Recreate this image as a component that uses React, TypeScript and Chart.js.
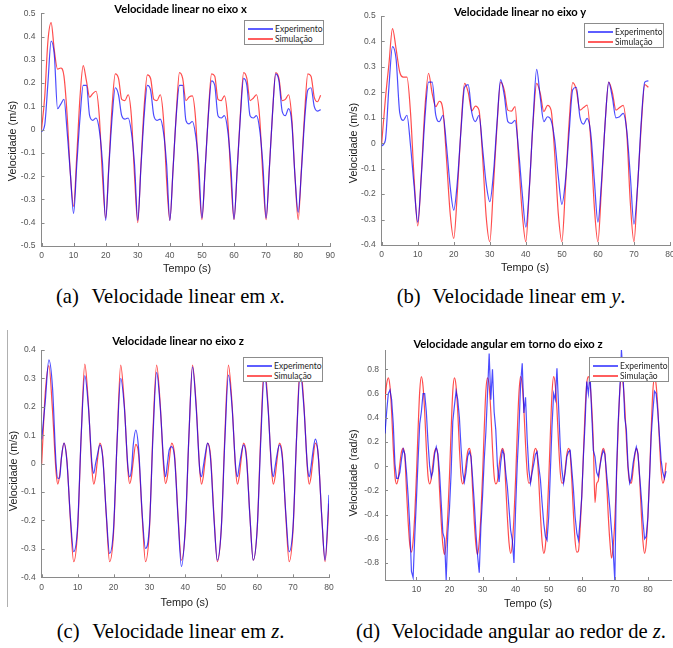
import React, { useEffect, useRef } from "react";
import { Chart, registerables } from "chart.js";
Chart.register(...registerables);

// ---------- DATA ----------
// (a) linear velocity x, sampled every 1 s
const timeA = Array.from({ length: 88 }, (_, i) => i);
const expA = [
  -0.01, 0.02, 0.2, 0.38, 0.32, 0.09, 0.11, 0.13, -0.01, -0.19,
  -0.36, -0.15, 0.05, 0.19, 0.19, 0.06, 0.04, 0.05, 0.0, -0.14,
  -0.39, -0.16, 0.05, 0.18, 0.15, 0.06, 0.045, 0.05, -0.01, -0.15,
  -0.39, -0.16, 0.06, 0.19, 0.17, 0.06, 0.04, 0.045, -0.01, -0.15,
  -0.39, -0.17, 0.06, 0.19, 0.19, 0.04, 0.025, 0.035, -0.02, -0.15,
  -0.38, -0.17, 0.06, 0.21, 0.19, 0.06, 0.05, 0.06, 0.0, -0.15,
  -0.385, -0.17, 0.06, 0.22, 0.19, 0.06, 0.05, 0.06, 0.0, -0.15,
  -0.38, -0.17, 0.07, 0.24, 0.21, 0.08, 0.06, 0.09, 0.03, -0.2,
  -0.355, -0.18, 0.04, 0.17, 0.18, 0.1, 0.08, 0.086,
];
const simA = [
  0.0, 0.14, 0.38, 0.46, 0.34, 0.26, 0.265, 0.23, 0.06, -0.19,
  -0.33, -0.11, 0.14, 0.275, 0.21, 0.14, 0.155, 0.165, 0.06, -0.2,
  -0.38, -0.15, 0.1, 0.24, 0.22, 0.13, 0.125, 0.15, 0.06, -0.2,
  -0.4, -0.15, 0.1, 0.235, 0.22, 0.13, 0.125, 0.15, 0.05, -0.22,
  -0.39, -0.17, 0.07, 0.245, 0.22, 0.125, 0.14, 0.145, 0.05, -0.2,
  -0.387, -0.17, 0.07, 0.24, 0.23, 0.13, 0.125, 0.145, 0.05, -0.2,
  -0.387, -0.17, 0.07, 0.245, 0.22, 0.125, 0.135, 0.15, 0.05, -0.2,
  -0.387, -0.17, 0.07, 0.245, 0.22, 0.125, 0.13, 0.15, 0.05, -0.2,
  -0.387, -0.17, 0.07, 0.24, 0.23, 0.14, 0.12, 0.148,
];

// (b) linear velocity y, sampled every 1 s
const timeB = Array.from({ length: 75 }, (_, i) => i);
const expB = [
  -0.01, 0.01, 0.22, 0.38, 0.33, 0.12, 0.09, 0.11, -0.01, -0.17,
  -0.31, -0.13, 0.1, 0.24, 0.24, 0.11, 0.085, 0.11, -0.013, -0.17,
  -0.263, -0.15, 0.05, 0.22, 0.23, 0.12, 0.085, 0.11, -0.02, -0.16,
  -0.23, -0.12, 0.08, 0.25, 0.19, 0.085, 0.078, 0.09, -0.03, -0.197,
  -0.33, -0.17, 0.09, 0.29, 0.18, 0.085, 0.104, 0.09, 0.013, -0.13,
  -0.24, -0.145, 0.04, 0.21, 0.22, 0.104, 0.075, 0.098, 0.04, -0.145,
  -0.31, -0.15, 0.08, 0.24, 0.18, 0.1, 0.104, 0.117, 0.05, -0.13,
  -0.318, -0.17, 0.08, 0.24, 0.245,
];
const simB = [
  0.0, 0.17, 0.31, 0.45, 0.37, 0.28, 0.26, 0.26, 0.12, -0.14,
  -0.325, -0.12, 0.14, 0.275, 0.196, 0.144, 0.165, 0.13, -0.066, -0.276,
  -0.374, -0.19, 0.06, 0.235, 0.2, 0.127, 0.146, 0.13, -0.053, -0.29,
  -0.387, -0.17, 0.07, 0.24, 0.21, 0.13, 0.126, 0.144, -0.066, -0.276,
  -0.387, -0.17, 0.08, 0.235, 0.196, 0.124, 0.149, 0.13, -0.04, -0.276,
  -0.387, -0.17, 0.08, 0.238, 0.21, 0.13, 0.14, 0.15, 0.013, -0.25,
  -0.387, -0.17, 0.08, 0.24, 0.2, 0.13, 0.14, 0.149, 0.04, -0.236,
  -0.387, -0.17, 0.065, 0.23, 0.22,
];

// (c) linear velocity z, read at key instants of each cycle
const timeC = [
  0, 1, 2, 3, 4, 4.5, 5, 5.5, 6.2, 7, 8, 8.9,
  10, 11, 12, 13, 14, 14.5, 15, 15.5, 16.2, 17, 18, 18.9,
  20, 21, 22, 23, 24, 24.5, 25, 25.5, 26.2, 27, 28, 28.9,
  30, 31, 32, 33, 34, 34.5, 35, 35.5, 36.2, 37, 38, 38.9,
  40, 41, 42, 43, 44, 44.5, 45, 45.5, 46.2, 47, 48, 48.9,
  50, 51, 52, 53, 54, 54.5, 55, 55.5, 56.2, 57, 58, 58.9,
  60, 61, 62, 63, 64, 64.5, 65, 65.5, 66.2, 67, 68, 68.9,
  70, 71, 72, 73, 74, 74.5, 75, 75.5, 76.2, 77, 78, 78.9,
  80,
];
const expC = [
  0.085, 0.22, 0.365, 0.27, 0.0, -0.052, -0.05, 0.022, 0.072, 0.01, -0.19, -0.31,
  -0.22, 0.1, 0.31, 0.2, 0.0, -0.034, 0.0, 0.03, 0.066, 0.02, -0.18, -0.316,
  -0.23, 0.08, 0.3, 0.2, -0.01, -0.046, -0.02, 0.066, 0.118, 0.05, -0.18, -0.298,
  -0.22, 0.1, 0.321, 0.2, 0.0, -0.046, 0.0, 0.048, 0.06, 0.02, -0.2, -0.362,
  -0.22, 0.1, 0.341, 0.2, -0.02, -0.046, -0.01, 0.03, 0.072, 0.02, -0.2, -0.34,
  -0.23, 0.08, 0.312, 0.2, -0.01, -0.046, -0.01, 0.03, 0.066, 0.02, -0.19, -0.34,
  -0.23, 0.08, 0.32, 0.2, -0.01, -0.046, -0.01, 0.03, 0.066, 0.02, -0.18, -0.31,
  -0.22, 0.1, 0.32, 0.2, -0.01, -0.046, -0.01, 0.04, 0.086, 0.03, -0.19, -0.34,
  -0.11,
];
const simC = [
  0.0, 0.25, 0.345, 0.19, -0.03, -0.072, -0.04, 0.02, 0.072, 0.015, -0.2, -0.345,
  -0.233, 0.1, 0.35, 0.21, -0.022, -0.072, -0.046, 0.01, 0.072, 0.025, -0.187, -0.345,
  -0.245, 0.083, 0.347, 0.21, -0.022, -0.07, -0.046, 0.01, 0.068, 0.03, -0.19, -0.345,
  -0.23, 0.12, 0.347, 0.21, -0.022, -0.07, -0.046, 0.01, 0.072, 0.03, -0.19, -0.34,
  -0.23, 0.1, 0.347, 0.21, -0.022, -0.072, -0.046, 0.01, 0.072, 0.03, -0.19, -0.345,
  -0.23, 0.1, 0.347, 0.21, -0.022, -0.072, -0.046, 0.01, 0.072, 0.03, -0.19, -0.34,
  -0.23, 0.1, 0.347, 0.21, -0.022, -0.072, -0.046, 0.01, 0.072, 0.03, -0.19, -0.345,
  -0.23, 0.1, 0.347, 0.21, -0.022, -0.072, -0.046, 0.01, 0.072, 0.03, -0.19, -0.345,
  -0.14,
];

// (d) angular velocity z, sampled every 0.5 s from 0.5 s
const timeD = Array.from({ length: 171 }, (_, i) => 0.5 + i * 0.5);
const expD = [
  0.27, 0.45, 0.6, 0.63, 0.55, 0.35, 0.02, -0.1, -0.1, -0.05,
  0.06, 0.14, 0.1, -0.05, -0.25, -0.5, -0.87, -0.92, -0.58, -0.28,
  0.05, 0.35, 0.45, 0.6, 0.6, 0.45, 0.2, 0.0, -0.09, -0.04,
  0.1, 0.16, 0.1, -0.05, -0.3, -0.55, -0.6, -0.94, -0.55, -0.35,
  -0.05, 0.37, 0.5, 0.62, 0.55, 0.4, 0.15, -0.05, -0.13, -0.05,
  0.08, 0.12, 0.08, -0.1, -0.3, -0.55, -0.74, -0.88, -0.5, -0.25,
  0.05, 0.28, 0.6, 0.93, 0.55, 0.8, 0.45, 0.3, 0.0, -0.13,
  0.03, 0.13, 0.1, -0.05, -0.17, -0.35, -0.53, -0.61, -0.8, -0.35,
  0.02, 0.3, 0.68, 0.85, 0.44, 0.57, 0.22, -0.03, -0.14, -0.05,
  0.02, 0.1, 0.12, 0.0, -0.11, -0.3, -0.47, -0.58, -0.61, -0.42,
  -0.05, 0.33, 0.6, 0.55, 0.81, 0.49, 0.16, -0.03, -0.14, -0.05,
  0.08, 0.12, 0.13, -0.03, -0.2, -0.42, -0.55, -0.61, -0.45, -0.25,
  0.08, 0.35, 0.7, 0.6, 0.77, 0.44, 0.13, 0.08, -0.05, -0.085,
  0.0, 0.08, 0.13, 0.1, -0.06, -0.2, -0.35, -0.53, -0.7, -0.95,
  -0.05, 0.35, 0.63, 0.96, 0.75, 0.4, 0.3, 0.0, -0.14, -0.1,
  0.02, 0.1, 0.16, 0.1, -0.08, -0.25, -0.45, -0.6, -0.58, -0.42,
  -0.1, 0.25, 0.45, 0.62, 0.6, 0.45, 0.25, 0.05, -0.05, -0.1,
  -0.04,
];
const simD = [
  0.55, 0.68, 0.73, 0.66, 0.45, 0.15, -0.08, -0.146, -0.1, 0.02,
  0.12, 0.148, 0.08, -0.2, -0.46, -0.65, -0.71, -0.62, -0.4, -0.08,
  0.3, 0.62, 0.74, 0.66, 0.45, 0.15, -0.08, -0.146, -0.1, 0.02,
  0.12, 0.148, 0.08, -0.2, -0.46, -0.65, -0.73, -0.62, -0.4, -0.08,
  0.3, 0.62, 0.73, 0.66, 0.45, 0.15, -0.08, -0.146, -0.1, 0.02,
  0.12, 0.148, 0.08, -0.2, -0.46, -0.65, -0.73, -0.62, -0.4, -0.08,
  0.3, 0.62, 0.73, 0.66, 0.45, 0.15, -0.08, -0.146, -0.12, 0.0,
  0.1, 0.148, 0.1, -0.15, -0.42, -0.63, -0.72, -0.64, -0.42, -0.1,
  0.28, 0.6, 0.74, 0.67, 0.47, 0.18, -0.05, -0.14, -0.13, -0.02,
  0.1, 0.148, 0.1, -0.12, -0.4, -0.62, -0.72, -0.66, -0.45, -0.12,
  0.26, 0.6, 0.74, 0.67, 0.47, 0.18, -0.05, -0.14, -0.13, -0.02,
  0.1, 0.148, 0.1, -0.12, -0.4, -0.62, -0.71, -0.7, -0.52, -0.25,
  0.1, 0.45, 0.68, 0.74, 0.68, 0.5, 0.2, -0.3, -0.146, -0.12,
  0.0, 0.1, 0.148, 0.1, -0.12, -0.4, -0.62, -0.76, -0.66, -0.45,
  -0.1, 0.3, 0.62, 0.73, 0.68, 0.5, 0.22, -0.02, -0.13, -0.14,
  -0.04, 0.08, 0.148, 0.1, -0.1, -0.38, -0.62, -0.72, -0.64, -0.42,
  -0.08, 0.3, 0.62, 0.73, 0.67, 0.48, 0.2, -0.04, -0.14, -0.1,
  0.03,
];

const LEGEND_LABELS = ["Experimento", "Simulação"];

// ---------- STYLE ----------
const BLUE = "rgba(0,0,255,0.7)";
const RED = "rgba(255,0,0,0.7)";
const AXIS = "#8a8a8a";
const TICK = "#555555";
const SANS = "'Liberation Sans', Arial, sans-serif";
const TITLE_FONT = "Lato, 'Open Sans', sans-serif";
const SERIF = "'Liberation Serif', 'Times New Roman', serif";

const inwardTicks = {
  id: "inwardTicks",
  afterDraw(chart: any) {
    const { ctx, chartArea, scales } = chart;
    ctx.save();
    ctx.strokeStyle = AXIS;
    ctx.lineWidth = 1;
    ctx.beginPath();
    scales.x.ticks.forEach((t: any) => {
      const px = Math.round(scales.x.getPixelForValue(t.value)) + 0.5;
      ctx.moveTo(px, chartArea.bottom);
      ctx.lineTo(px, chartArea.bottom - 3);
    });
    scales.y.ticks.forEach((t: any) => {
      const py = Math.round(scales.y.getPixelForValue(t.value)) + 0.5;
      ctx.moveTo(chartArea.left, py);
      ctx.lineTo(chartArea.left + 3, py);
    });
    ctx.stroke();
    ctx.restore();
  },
};

const fmt = (v: number) => String(Math.round(v * 100) / 100);

type PanelProps = {
  left: number; top: number; width: number; height: number;
  area: { left: number; top: number; right: number; bottom: number };
  xMin: number; xMax: number; xStep: number;
  yMin: number; yMax: number; yStep: number;
  time: number[]; exp: number[]; sim: number[]; expSmooth: boolean;
};

function Panel(p: PanelProps) {
  const ref = useRef<HTMLCanvasElement>(null);
  useEffect(() => {
    if (!ref.current) return;
    const tickFont = { family: SANS, size: 8.5 };
    const chart = new Chart(ref.current, {
      type: "line",
      data: {
        datasets: [
          {
            label: LEGEND_LABELS[0],
            data: p.time.map((t, i) => ({ x: t, y: p.exp[i] })),
            borderColor: BLUE,
            borderWidth: 1.2,
            pointRadius: 0,
            fill: false,
            tension: 0,
            cubicInterpolationMode: p.expSmooth ? "monotone" : "default",
          },
          {
            label: LEGEND_LABELS[1],
            data: p.time.map((t, i) => ({ x: t, y: p.sim[i] })),
            borderColor: RED,
            borderWidth: 1.2,
            pointRadius: 0,
            fill: false,
            cubicInterpolationMode: "monotone",
          },
        ],
      },
      options: {
        responsive: false,
        animation: false,
        events: [],
        layout: { padding: { left: 0, top: p.area.top, right: p.width - p.area.right, bottom: 0 } },
        plugins: { legend: { display: false }, tooltip: { enabled: false }, title: { display: false } },
        scales: {
          x: {
            type: "linear",
            min: p.xMin,
            max: p.xMax,
            afterFit: (s: any) => { s.height = p.height - p.area.bottom; },
            grid: { display: false, drawTicks: false },
            border: { display: true, color: AXIS, width: 1 },
            ticks: {
              stepSize: p.xStep, includeBounds: false, padding: 5, color: TICK,
              font: tickFont, maxRotation: 0, autoSkip: false, callback: (v: any) => fmt(Number(v)),
            },
          },
          y: {
            type: "linear",
            min: p.yMin,
            max: p.yMax,
            afterFit: (s: any) => { s.width = p.area.left; },
            grid: { display: false, drawTicks: false },
            border: { display: true, color: AXIS, width: 1 },
            ticks: {
              stepSize: p.yStep, includeBounds: false, padding: 6, color: TICK,
              font: tickFont, autoSkip: false, callback: (v: any) => fmt(Number(v)),
            },
          },
        },
      } as any,
      plugins: [inwardTicks],
    });
    return () => chart.destroy();
  }, []);
  return (
    <canvas
      ref={ref}
      width={p.width}
      height={p.height}
      style={{ position: "absolute", left: p.left, top: p.top, width: p.width, height: p.height }}
    />
  );
}

function Legend({ x, y }: { x: number; y: number }) {
  const row = (label: string, color: string, cy: number) => (
    <>
      <div style={{ position: "absolute", left: 3, top: cy - 1, width: 25, height: 2, background: color }} />
      <div style={{ position: "absolute", left: 30, top: cy, transform: "translateY(-50%)", font: `8.5px ${TITLE_FONT}`, lineHeight: 1, color: "#262626", whiteSpace: "nowrap" }}>{label}</div>
    </>
  );
  return (
    <div style={{ position: "absolute", left: x, top: y, width: 80, height: 25, background: "#fff", border: "1px solid #8c8c8c", boxSizing: "border-box" }}>
      {row(LEGEND_LABELS[0], "rgba(40,40,255,0.75)", 7.5)}
      {row(LEGEND_LABELS[1], "rgba(255,40,40,0.75)", 17.5)}
    </div>
  );
}

function Text({ x, y, children, font, rotate, color }: any) {
  return (
    <div
      style={{
        position: "absolute", left: x, top: y, whiteSpace: "nowrap", font, lineHeight: 1,
        color: color || "#222",
        transform: `translate(-50%,-50%)${rotate ? " rotate(-90deg)" : ""}`,
      }}
    >
      {children}
    </div>
  );
}

function Caption({ x, top, label, children }: any) {
  return (
    <div style={{ position: "absolute", left: x, top, font: `20.6px ${SERIF}`, lineHeight: "20px", color: "#000", whiteSpace: "nowrap" }}>
      <span style={{ display: "inline-block", width: 35.5 }}>{label}</span>
      {children}
    </div>
  );
}

export default function App() {
  const titleFont = `bold 11.2px ${TITLE_FONT}`;
  const labelFont = `10.8px ${SANS}`;
  return (
    <div style={{ position: "fixed", left: 0, top: 0, width: 673, height: 648, overflow: "hidden", background: "#fff" }}>
      <Panel left={0} top={0} width={340} height={280}
        area={{ left: 41.5, top: 13.3, right: 331.5, bottom: 246 }}
        xMin={0} xMax={90} xStep={10} yMin={-0.5} yMax={0.5} yStep={0.1}
        time={timeA} exp={expA} sim={simA} expSmooth={true} />
      <Panel left={340} top={0} width={345} height={280}
        area={{ left: 41.7, top: 16, right: 330, bottom: 245 }}
        xMin={0} xMax={80} xStep={10} yMin={-0.4} yMax={0.5} yStep={0.1}
        time={timeB} exp={expB} sim={simB} expSmooth={true} />
      <Panel left={0} top={330} width={340} height={290}
        area={{ left: 41.7, top: 20, right: 329, bottom: 247.3 }}
        xMin={0} xMax={80} xStep={10} yMin={-0.4} yMax={0.4} yStep={0.1}
        time={timeC} exp={expC} sim={simC} expSmooth={true} />
      <Panel left={340} top={330} width={345} height={290}
        area={{ left: 45, top: 20, right: 331.7, bottom: 250 }}
        xMin={0.5} xMax={87.2} xStep={10} yMin={-0.94} yMax={0.96} yStep={0.2}
        time={timeD} exp={expD} sim={simD} expSmooth={false} />

      <Legend x={244} y={20} />
      <Legend x={584} y={23} />
      <Legend x={243} y={357} />
      <Legend x={589} y={357} />

      <div style={{ position: "absolute", left: 7, top: 330, width: 0, height: 277, borderLeft: "1px solid #b0b0b0" }} />

      <Text x={180.5} y={8.5} font={titleFont} color="#000">Velocidade linear no eixo x</Text>
      <Text x={520} y={12} font={titleFont} color="#000">Velocidade linear no eixo y</Text>
      <Text x={178} y={341} font={titleFont} color="#000">Velocidade linear no eixo z</Text>
      <Text x={508} y={344} font={titleFont} color="#000">Velocidade angular em torno do eixo z</Text>

      <Text x={187} y={268} font={labelFont}>Tempo (s)</Text>
      <Text x={525} y={267} font={labelFont}>Tempo (s)</Text>
      <Text x={184.5} y={602} font={labelFont}>Tempo (s)</Text>
      <Text x={528} y={603} font={labelFont}>Tempo (s)</Text>

      <Text x={11.5} y={141} font={labelFont} rotate>Velocidade (m/s)</Text>
      <Text x={353.3} y={143} font={labelFont} rotate>Velocidade (m/s)</Text>
      <Text x={12.7} y={471} font={labelFont} rotate>Velocidade (m/s)</Text>
      <Text x={352.7} y={473} font={labelFont} rotate>Velocidade (rad/s)</Text>

      <Caption x={56} top={286} label="(a)">Velocidade linear em <i>x</i>.</Caption>
      <Caption x={396.7} top={286} label="(b)">Velocidade linear em <i>y</i>.</Caption>
      <Caption x={56.7} top={621} label="(c)">Velocidade linear em <i>z</i>.</Caption>
      <Caption x={356} top={621} label="(d)">Velocidade angular ao redor de <i>z</i>.</Caption>
    </div>
  );
}
